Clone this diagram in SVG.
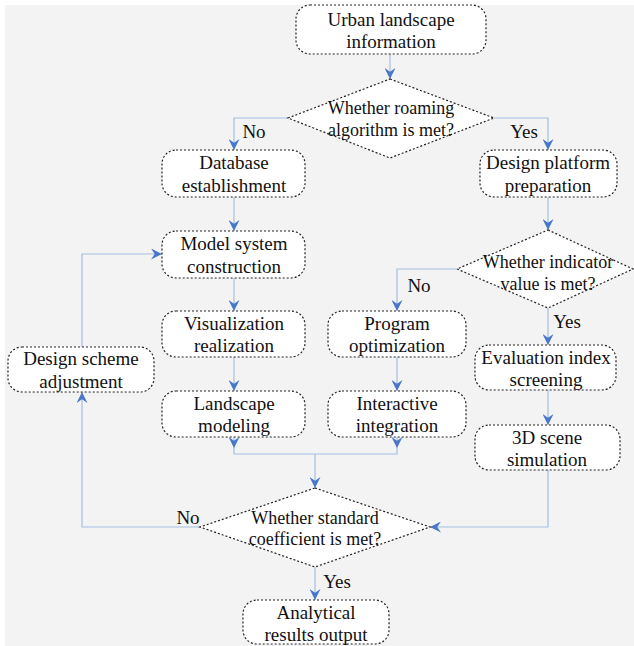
<svg xmlns="http://www.w3.org/2000/svg" width="634" height="646" viewBox="0 0 634 646">
<defs>
<style>
.bg{fill:#f3f3f3}
.box{fill:#fff;stroke:#222;stroke-width:1.2;stroke-dasharray:2 2}
text{font-family:'Liberation Serif','Times New Roman','DejaVu Serif',serif;fill:#111;text-anchor:middle;dominant-baseline:central}
.t{font-size:19px}
.d{font-size:18px}
.lbl{font-size:19px}
.c{fill:none;stroke:#a3bfe2;stroke-width:1.2}
</style>
<marker id="ah" viewBox="0 0 12 12" refX="12" refY="6" markerWidth="11" markerHeight="11" markerUnits="userSpaceOnUse" orient="auto">
<path d="M0,0 L12,6 L0,12 L4,6 z" fill="#4a78c8"/>
</marker>
</defs>
<rect class="bg" x="5" y="5" width="629" height="641"/>

<g id="connectors">
<path class="c" d="M390,54 V79" marker-end="url(#ah)"/>
<path class="c" d="M288,118 H234 V150" marker-end="url(#ah)"/>
<path class="c" d="M494,118 H548 V150" marker-end="url(#ah)"/>
<path class="c" d="M234,197 V231" marker-end="url(#ah)"/>
<path class="c" d="M548,197 V230" marker-end="url(#ah)"/>
<path class="c" d="M457,269 H397 V311" marker-end="url(#ah)"/>
<path class="c" d="M548,308 V345" marker-end="url(#ah)"/>
<path class="c" d="M234,278 V311" marker-end="url(#ah)"/>
<path class="c" d="M234,357 V391" marker-end="url(#ah)"/>
<path class="c" d="M397,357 V391" marker-end="url(#ah)"/>
<path class="c" d="M548,390 V425" marker-end="url(#ah)"/>
<path class="c" d="M234,437 V448" marker-end="url(#ah)"/>
<path class="c" d="M397,437 V448" marker-end="url(#ah)"/>
<path class="c" d="M234,448 V454 H397 V448"/>
<path class="c" d="M315,454 V488" marker-end="url(#ah)"/>
<path class="c" d="M548,470 V527 H430" marker-end="url(#ah)"/>
<path class="c" d="M200,527 H82 V392" marker-end="url(#ah)"/>
<path class="c" d="M82,347 V254 H162" marker-end="url(#ah)"/>
<path class="c" d="M315,567 V600" marker-end="url(#ah)"/>
<text class="lbl" x="254" y="131">No</text>
<text class="lbl" x="524" y="131">Yes</text>
<text class="lbl" x="419" y="285">No</text>
<text class="lbl" x="567" y="321">Yes</text>
<text class="lbl" x="188" y="517">No</text>
<text class="lbl" x="337" y="581">Yes</text>
</g>

<g id="urban">
<rect class="box" x="296" y="5" width="190" height="49" rx="14"/>
<text class="t" x="391" y="19">Urban landscape</text>
<text class="t" x="391" y="41">information</text>
</g>
<g id="d1">
<polygon class="box" points="390,79 494,118 390,158 288,118"/>
<text class="d" x="391" y="108">Whether roaming</text>
<text class="d" x="391" y="130">algorithm is met?</text>
</g>
<g id="database">
<rect class="box" x="162" y="150" width="143" height="47" rx="14"/>
<text class="t" x="234" y="162">Database</text>
<text class="t" x="234" y="185">establishment</text>
</g>
<g id="platform">
<rect class="box" x="480" y="150" width="137" height="47" rx="14"/>
<text class="t" x="548" y="162">Design platform</text>
<text class="t" x="548" y="185">preparation</text>
</g>
<g id="model">
<rect class="box" x="162" y="231" width="143" height="47" rx="14"/>
<text class="t" x="234" y="243">Model system</text>
<text class="t" x="234" y="266">construction</text>
</g>
<g id="d2">
<polygon class="box" points="548,230 633,269 548,308 457,269"/>
<text class="d" x="548" y="262">Whether indicator</text>
<text class="d" x="548" y="284">value is met?</text>
</g>
<g id="visualization">
<rect class="box" x="162" y="311" width="143" height="46" rx="14"/>
<text class="t" x="234" y="323">Visualization</text>
<text class="t" x="234" y="345">realization</text>
</g>
<g id="program">
<rect class="box" x="328" y="311" width="138" height="46" rx="14"/>
<text class="t" x="397" y="323">Program</text>
<text class="t" x="397" y="345">optimization</text>
</g>
<g id="scheme">
<rect class="box" x="8" y="347" width="146" height="45" rx="14"/>
<text class="t" x="81" y="358">Design scheme</text>
<text class="t" x="81" y="381">adjustment</text>
</g>
<g id="evaluation">
<rect class="box" x="475" y="345" width="141" height="45" rx="14"/>
<text class="t" x="546" y="357">Evaluation index</text>
<text class="t" x="546" y="379">screening</text>
</g>
<g id="landscape">
<rect class="box" x="162" y="391" width="143" height="46" rx="14"/>
<text class="t" x="234" y="403">Landscape</text>
<text class="t" x="234" y="425">modeling</text>
</g>
<g id="interactive">
<rect class="box" x="328" y="391" width="138" height="46" rx="14"/>
<text class="t" x="397" y="403">Interactive</text>
<text class="t" x="397" y="425">integration</text>
</g>
<g id="scene">
<rect class="box" x="475" y="425" width="145" height="45" rx="14"/>
<text class="t" x="547" y="437">3D scene</text>
<text class="t" x="547" y="459">simulation</text>
</g>
<g id="d3">
<polygon class="box" points="315,488 430,527 315,567 200,527"/>
<text class="d" x="315" y="518">Whether standard</text>
<text class="d" x="315" y="539">coefficient is met?</text>
</g>
<g id="analytical">
<rect class="box" x="243" y="600" width="146" height="44" rx="14"/>
<text class="t" x="316" y="612">Analytical</text>
<text class="t" x="316" y="634">results output</text>
</g>
</svg>
